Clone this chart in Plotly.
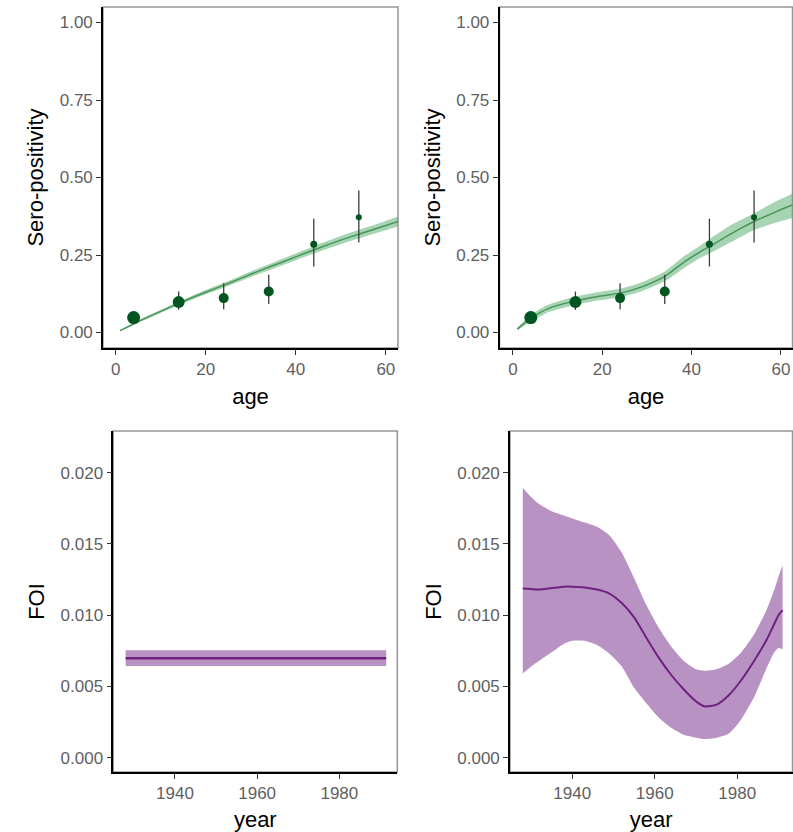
import plotly.graph_objects as go

# ---- observed sero-positivity by age group ----
age_obs = [4, 14, 24, 34, 44, 54]
sero_obs = [0.048, 0.098, 0.111, 0.132, 0.285, 0.372]
sero_lo = [0.031, 0.073, 0.075, 0.092, 0.213, 0.290]
sero_hi = [0.068, 0.132, 0.159, 0.186, 0.367, 0.458]
obs_size = [13, 12, 10, 10, 7, 6]

# ---- constant FOI model: fitted sero-positivity ----
age_const = [1, 5, 10, 15, 20, 25, 30, 35, 40, 45, 50, 55, 60, 62.7]
sero_const = [0.006, 0.035, 0.068, 0.100, 0.130, 0.158, 0.188, 0.216, 0.244, 0.272, 0.298, 0.322, 0.345, 0.358]
sero_const_lo = [0.004, 0.031, 0.063, 0.094, 0.123, 0.150, 0.179, 0.206, 0.233, 0.260, 0.285, 0.308, 0.330, 0.342]
sero_const_hi = [0.008, 0.039, 0.073, 0.106, 0.137, 0.166, 0.197, 0.226, 0.255, 0.284, 0.311, 0.336, 0.360, 0.374]

# ---- time-varying FOI model: fitted sero-positivity ----
age_tv = [1, 4, 8, 14, 19, 24, 29, 34, 38, 42, 44, 49, 54, 59, 62.7]
sero_tv = [0.011, 0.046, 0.078, 0.102, 0.116, 0.127, 0.148, 0.181, 0.224, 0.261, 0.277, 0.320, 0.358, 0.390, 0.412]
sero_tv_lo = [0.007, 0.035, 0.066, 0.089, 0.103, 0.114, 0.134, 0.165, 0.205, 0.241, 0.255, 0.293, 0.331, 0.355, 0.370]
sero_tv_hi = [0.015, 0.057, 0.090, 0.116, 0.130, 0.141, 0.163, 0.197, 0.243, 0.281, 0.301, 0.348, 0.385, 0.423, 0.448]

# ---- constant FOI estimate over years ----
year_const = [1928, 1991.4]
foi_const = [0.00697, 0.00697]
foi_const_lo = [0.00643, 0.00643]
foi_const_hi = [0.00753, 0.00753]

# ---- time-varying FOI estimate over years ----
year_tv = [1928, 1930, 1932, 1935, 1938, 1940, 1943, 1946, 1949, 1952, 1955, 1958,
           1961, 1964, 1967, 1970, 1972, 1975, 1978, 1981, 1984, 1987, 1989, 1990, 1991]
foi_tv = [0.01187, 0.01183, 0.0118, 0.0119, 0.0120, 0.0120, 0.01195, 0.0118, 0.01152, 0.01085,
          0.00985, 0.0084, 0.0070, 0.0058, 0.0048, 0.00395, 0.0036, 0.00372, 0.0044, 0.00545,
          0.00675, 0.0082, 0.0094, 0.0100, 0.01035]
foi_tv_hi = [0.01895, 0.0183, 0.0178, 0.0173, 0.0170, 0.01679, 0.0165, 0.0162, 0.0156, 0.0144,
             0.0126, 0.0107, 0.0091, 0.0078, 0.0068, 0.0062, 0.0061, 0.0062, 0.0066, 0.0074,
             0.0086, 0.0103, 0.0118, 0.0127, 0.0135]
foi_tv_lo = [0.0059, 0.0064, 0.0068, 0.0074, 0.0080, 0.0082, 0.0082, 0.0079, 0.0073, 0.0064,
             0.0049, 0.0038, 0.0028, 0.0021, 0.0016, 0.0014, 0.0013, 0.0014, 0.0017, 0.0027,
             0.0042, 0.0062, 0.0074, 0.0077, 0.0076]

sero_ticks = [0.0, 0.25, 0.5, 0.75, 1.0]
sero_ticktext = ["0.00", "0.25", "0.50", "0.75", "1.00"]
age_ticks = [0, 20, 40, 60]
foi_ticks = [0.0, 0.005, 0.01, 0.015, 0.02]
foi_ticktext = ["0.000", "0.005", "0.010", "0.015", "0.020"]
year_ticks = [1940, 1960, 1980]

W, H = 793, 832
FONT = "Liberation Sans, Arial, Helvetica, sans-serif"
GREEN_FILL = "rgba(72,165,95,0.48)"
GREEN_LINE = "rgb(70,150,90)"
POINT = "rgb(0,85,32)"
PURPLE_FILL = "rgb(184,146,194)"
PURPLE_LINE = "rgb(112,32,128)"


def px_x(a, b):
    return [a / W, b / W]


def px_y(top, bottom):
    return [1 - bottom / H, 1 - top / H]


fig = go.Figure()


def ribbon(x, lo, hi, mean, xa, ya, fill, line, lw, smooth):
    shape = "spline" if smooth else "linear"
    fig.add_trace(go.Scatter(x=x, y=lo, xaxis=xa, yaxis=ya, mode="lines",
                             line=dict(width=0, shape=shape, smoothing=smooth or None),
                             showlegend=False, hoverinfo="skip"))
    fig.add_trace(go.Scatter(x=x, y=hi, xaxis=xa, yaxis=ya, mode="lines",
                             line=dict(width=0, shape=shape, smoothing=smooth or None),
                             fill="tonexty", fillcolor=fill,
                             showlegend=False, hoverinfo="skip"))
    fig.add_trace(go.Scatter(x=x, y=mean, xaxis=xa, yaxis=ya, mode="lines",
                             line=dict(color=line, width=lw, shape=shape, smoothing=smooth or None),
                             showlegend=False))


def observed(xa, ya):
    fig.add_trace(go.Scatter(
        x=age_obs, y=sero_obs, xaxis=xa, yaxis=ya, mode="markers",
        marker=dict(size=obs_size, color=POINT, opacity=1, line=dict(width=0)),
        error_y=dict(type="data", symmetric=False,
                     array=[h - m for h, m in zip(sero_hi, sero_obs)],
                     arrayminus=[m - l for m, l in zip(sero_obs, sero_lo)],
                     color="rgb(60,60,60)", thickness=1.3, width=0),
        showlegend=False))


ribbon(age_const, sero_const_lo, sero_const_hi, sero_const, "x", "y", GREEN_FILL, GREEN_LINE, 1.5, 0.6)
observed("x", "y")
ribbon(age_tv, sero_tv_lo, sero_tv_hi, sero_tv, "x2", "y2", GREEN_FILL, GREEN_LINE, 1.5, 0.6)
observed("x2", "y2")
ribbon(year_const, foi_const_lo, foi_const_hi, foi_const, "x3", "y3", PURPLE_FILL, PURPLE_LINE, 2.5, 0)
ribbon(year_tv, foi_tv_lo, foi_tv_hi, foi_tv, "x4", "y4", PURPLE_FILL, PURPLE_LINE, 2, 0.6)

tick_font = dict(family=FONT, size=17, color="rgb(95,95,95)")
title_font = dict(family=FONT, size=22, color="black")
common = dict(showline=True, linecolor="black", linewidth=1.6, mirror=False,
              ticks="outside", ticklen=5, tickwidth=1.2, tickcolor="rgb(50,50,50)",
              showgrid=False, zeroline=False, tickfont=tick_font, fixedrange=True)

top = px_y(7, 348)
bottom = px_y(431, 772)

fig.update_layout(
    width=W, height=H, margin=dict(l=0, r=0, t=0, b=0),
    paper_bgcolor="white", plot_bgcolor="white", showlegend=False,
    xaxis=dict(domain=px_x(103, 398), range=[-2.8, 62.7], anchor="y",
               tickvals=age_ticks, title=dict(text="age", font=title_font, standoff=10), **common),
    yaxis=dict(domain=top, range=[-0.05, 1.05], anchor="x",
               tickvals=sero_ticks, ticktext=sero_ticktext,
               title=dict(text="Sero-positivity", font=title_font, standoff=10), **common),
    xaxis2=dict(domain=px_x(499.5, 792.5), range=[-3.0, 62.6], anchor="y2",
                tickvals=age_ticks, title=dict(text="age", font=title_font, standoff=10), **common),
    yaxis2=dict(domain=top, range=[-0.05, 1.05], anchor="x2",
                tickvals=sero_ticks, ticktext=sero_ticktext,
                title=dict(text="Sero-positivity", font=title_font, standoff=10), **common),
    xaxis3=dict(domain=px_x(113.3, 397.3), range=[1925.0, 1994.1], anchor="y3",
                tickvals=year_ticks, title=dict(text="year", font=title_font, standoff=10), **common),
    yaxis3=dict(domain=bottom, range=[-0.00101, 0.02293], anchor="x3",
                tickvals=foi_ticks, ticktext=foi_ticktext,
                title=dict(text="FOI", font=title_font, standoff=10), **common),
    xaxis4=dict(domain=px_x(510, 792.5), range=[1924.9, 1993.4], anchor="y4",
                tickvals=year_ticks, title=dict(text="year", font=title_font, standoff=10), **common),
    yaxis4=dict(domain=bottom, range=[-0.00101, 0.02293], anchor="x4",
                tickvals=foi_ticks, ticktext=foi_ticktext,
                title=dict(text="FOI", font=title_font, standoff=10), **common),
)

# light panel border (top and right edges) behind the dark axis lines
for xa, ya in [("x", "y"), ("x2", "y2"), ("x3", "y3"), ("x4", "y4")]:
    fig.add_shape(type="rect", xref=f"{xa} domain", yref=f"{ya} domain",
                  x0=0, x1=1, y0=0, y1=1, layer="below",
                  line=dict(color="rgb(150,150,150)", width=1.5))

fig.write_html("out.html")
